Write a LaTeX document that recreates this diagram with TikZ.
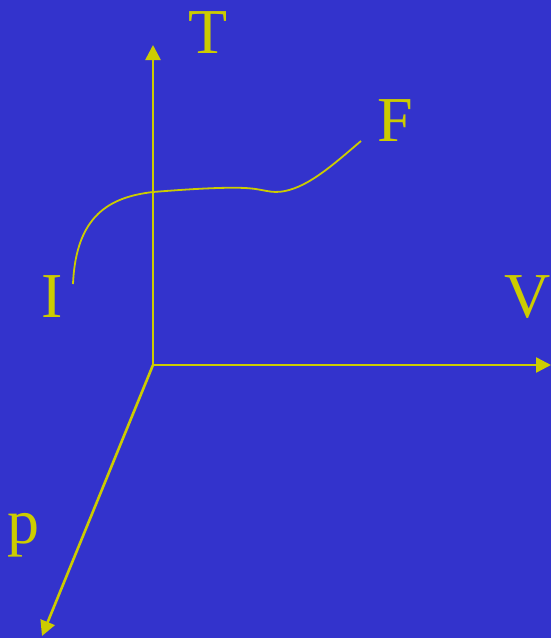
\documentclass[tikz,border=0pt]{standalone}
\usepackage{fontspec}
\setmainfont{Liberation Serif}
\usetikzlibrary{arrows.meta}
\definecolor{bgblue}{HTML}{3333CC}
\definecolor{axisyellow}{HTML}{CCCC00}
\begin{document}
\begin{tikzpicture}[x=1pt, y=-1pt, >={Triangle[length=15pt,width=15pt]},
		axis/.style={draw=axisyellow, line width=2.6pt},
		lbl/.style={text=axisyellow, font=\fontsize{64}{72}\selectfont, anchor=base, inner sep=0pt}]
			% background
			\fill[bgblue] (0,0) rectangle (551,638);
			\useasboundingbox (0,0) rectangle (551,638);
			
			% axes
			\coordinate (O) at (153,365);
			\coordinate (Tend) at (153,45);
			\coordinate (Vend) at (551,365);
			\coordinate (pend) at (42,636);
			\draw[axis, ->] (O) -- (Tend);
			\draw[axis, ->] (O) -- (Vend);
			\draw[axis, ->] (O) -- (pend);
			\node[lbl] (T) at (208,53) {T};
			\node[lbl] (V) at (528,317) {V};
			\node[lbl] (p) at (24,543) {p};
			
			% path from I to F
			\node[lbl] (I) at (52,317) {I};
			\node[lbl] (F) at (395,141) {F};
			\coordinate (start) at (73,284);
			\coordinate (stop) at (361,141);
			\draw[draw=axisyellow, line width=1.8pt] (start)
				.. controls (76,215) and (110,197) .. (153,192)
				.. controls (190,189) and (225,187) .. (245,188)
				.. controls (265,189) and (270,194) .. (285,191)
				.. controls (310,186) and (335,163) .. (stop);
		\end{tikzpicture}
\end{document}
